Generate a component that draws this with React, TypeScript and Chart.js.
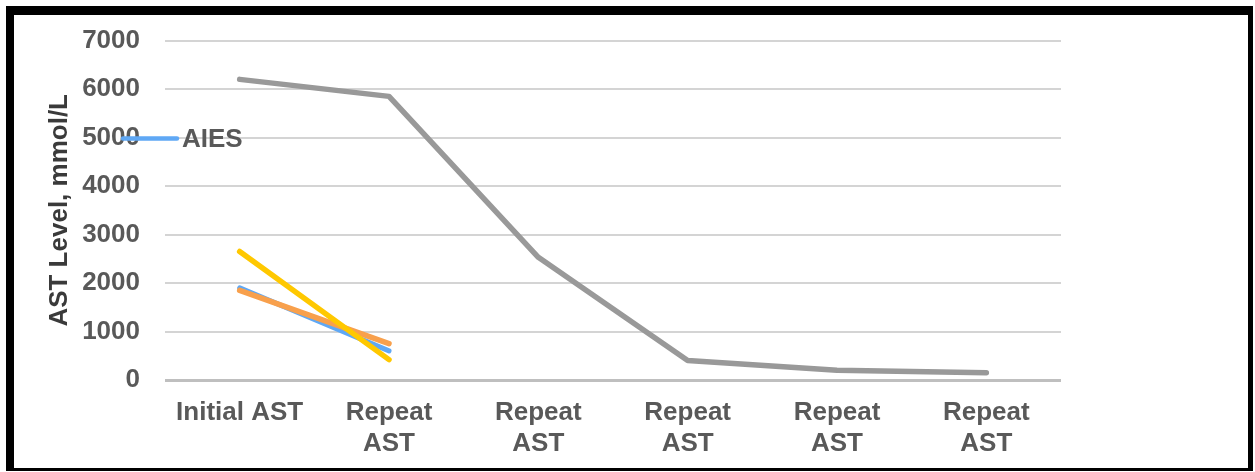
import React, { useEffect, useRef } from "react";
import { Chart, registerables } from "chart.js";

Chart.register(...registerables);

// Measurement points along the x axis
const categories: (string | string[])[] = [
  "Initial AST",
  ["Repeat", "AST"],
  ["Repeat", "AST"],
  ["Repeat", "AST"],
  ["Repeat", "AST"],
  ["Repeat", "AST"],
];

// AST values per patient (mmol/L)
const aiesValues = [1900, 600, null, null, null, null];
const patientBValues = [1850, 750, null, null, null, null];
const patientCValues = [2650, 420, null, null, null, null];
const patientDValues = [6200, 5850, 2530, 400, 200, 150];

// Y axis range
const yMin = 0;
const yMax = 7000;
const yStep = 1000;

const FONT_FAMILY = "'Liberation Sans', Arial, sans-serif";
const TEXT_GREY = "#595959";

// Draws the single key entry ("AIES") beside the value axis
const seriesKeyPlugin = {
  id: "seriesKey",
  afterDraw(chart: Chart) {
    const { ctx, chartArea } = chart;
    const ds = chart.data.datasets[0] as any;
    const y = chartArea.top + 98;
    const x0 = chartArea.left - 42;
    ctx.save();
    ctx.strokeStyle = ds.borderColor;
    ctx.lineWidth = 4.5;
    ctx.lineCap = "round";
    ctx.beginPath();
    ctx.moveTo(x0, y);
    ctx.lineTo(x0 + 54, y);
    ctx.stroke();
    ctx.font = `bold 26px ${FONT_FAMILY}`;
    ctx.fillStyle = TEXT_GREY;
    ctx.textBaseline = "middle";
    ctx.textAlign = "left";
    ctx.fillText(String(ds.label), x0 + 59, y + 1);
    ctx.restore();
  },
};

export default function App() {
  const canvasRef = useRef<HTMLCanvasElement | null>(null);

  useEffect(() => {
    const canvas = canvasRef.current;
    if (!canvas) return;

    const lineStyle = {
      pointRadius: 0,
      pointHoverRadius: 0,
      borderCapStyle: "round" as const,
      borderJoinStyle: "round" as const,
      tension: 0,
      fill: false,
      spanGaps: false,
    };

    const chart = new Chart(canvas, {
      type: "line",
      data: {
        labels: categories,
        datasets: [
          {
            label: "AIES",
            data: aiesValues,
            borderColor: "#5FA8F5",
            borderWidth: 5,
            order: 2,
            ...lineStyle,
          },
          {
            label: "Patient B",
            data: patientBValues,
            borderColor: "#F8A04C",
            borderWidth: 5.5,
            order: 1,
            ...lineStyle,
          },
          {
            label: "Patient C",
            data: patientCValues,
            borderColor: "#FFC800",
            borderWidth: 5.5,
            order: 0,
            ...lineStyle,
          },
          {
            label: "Patient D",
            data: patientDValues,
            borderColor: "#999999",
            borderWidth: 5.5,
            order: 3,
            ...lineStyle,
          },
        ],
      },
      options: {
        responsive: false,
        animation: false,
        devicePixelRatio: 1,
        layout: {
          padding: { left: 0, right: 194, top: 40, bottom: 10 },
        },
        plugins: {
          legend: { display: false },
          tooltip: { enabled: false },
          title: { display: false },
        },
        scales: {
          x: {
            offset: true,
            grid: { display: false, drawTicks: false },
            border: { display: false },
            ticks: {
              color: TEXT_GREY,
              font: { family: FONT_FAMILY, size: 26, weight: "bold", lineHeight: 1.2 },
              padding: 17,
              maxRotation: 0,
              autoSkip: false,
            },
            afterFit: (scale: any) => {
              scale.height = 82;
            },
          },
          y: {
            min: yMin,
            max: yMax,
            grid: {
              drawTicks: false,
              color: (ctx: any) => (ctx.tick && ctx.tick.value === 0 ? "#BFBFBF" : "#D4D4D4"),
              lineWidth: (ctx: any) => (ctx.tick && ctx.tick.value === 0 ? 3 : 2),
            },
            border: { display: false },
            ticks: {
              stepSize: yStep,
              color: TEXT_GREY,
              font: { family: FONT_FAMILY, size: 26, weight: "bold" },
              padding: 25,
              callback: (value: any) => String(value),
            },
            title: {
              display: true,
              text: "AST Level, mmol/L",
              color: "#3A3A3A",
              font: { family: FONT_FAMILY, size: 26, weight: "bold", lineHeight: 1.2 },
              padding: { top: 44, bottom: 0 },
            },
            afterFit: (scale: any) => {
              scale.width = 165;
            },
          },
        },
      },
      plugins: [seriesKeyPlugin],
    });

    return () => chart.destroy();
  }, []);

  return (
    <div
      style={{
        position: "fixed",
        left: 0,
        top: 0,
        width: 1255,
        height: 472,
        background: "#ffffff",
      }}
    >
      <canvas
        ref={canvasRef}
        width={1255}
        height={472}
        style={{ position: "absolute", left: 0, top: 0, width: 1255, height: 472 }}
      />
      <div
        style={{
          position: "absolute",
          left: 6,
          top: 6,
          width: 1247,
          height: 465,
          boxSizing: "border-box",
          borderTop: "9px solid #000",
          borderLeft: "8px solid #000",
          borderRight: "5px solid #000",
          borderBottom: "3px solid #000",
          pointerEvents: "none",
        }}
      />
    </div>
  );
}
